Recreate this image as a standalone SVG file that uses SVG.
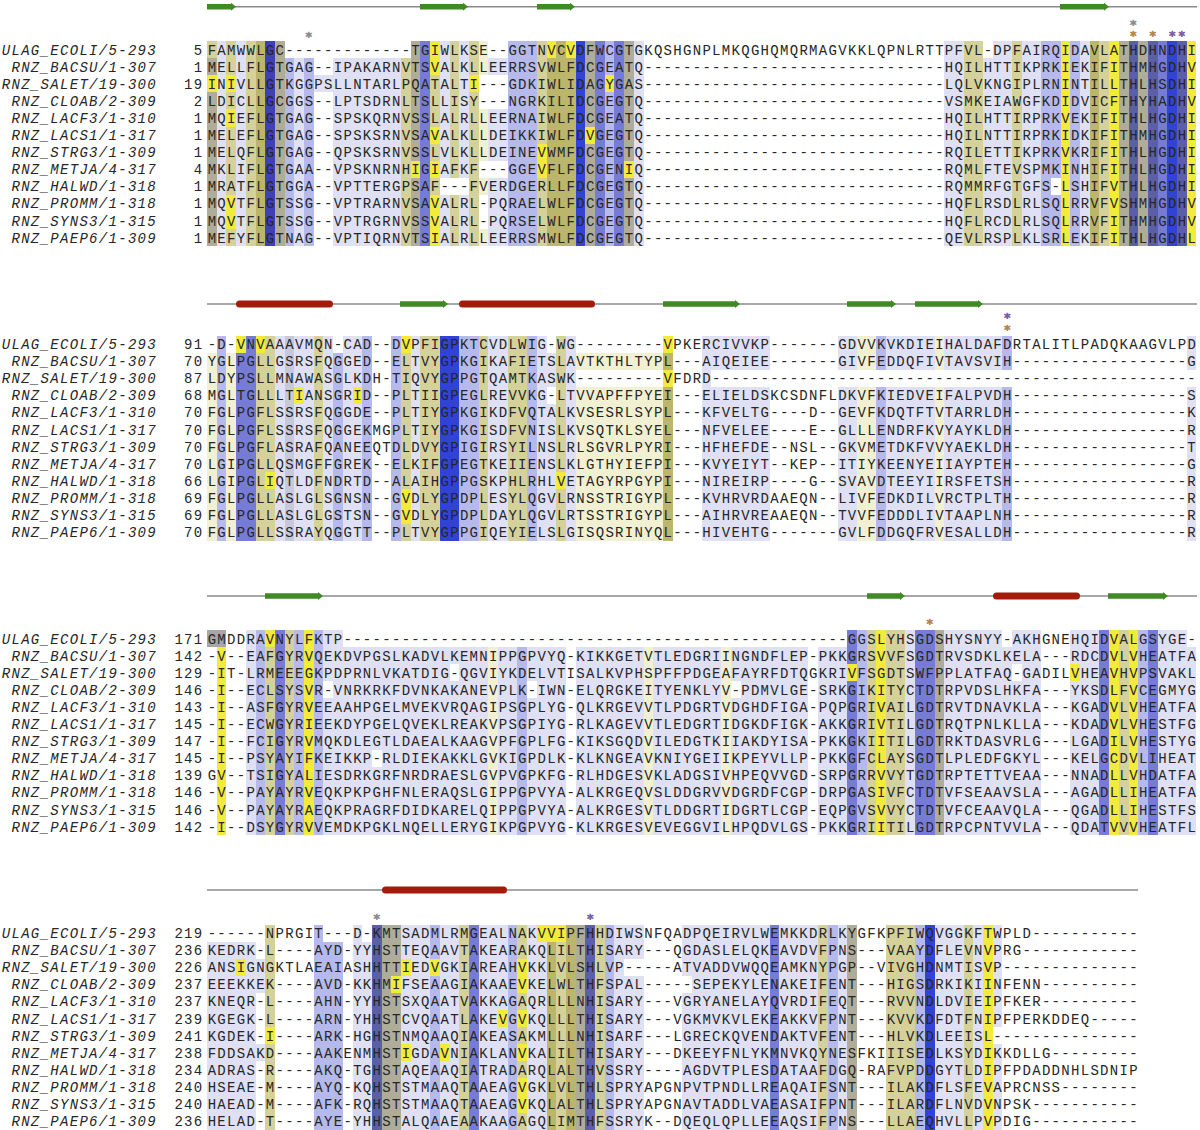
<svg xmlns="http://www.w3.org/2000/svg" width="1200" height="1130" viewBox="0 0 1200 1130">
<style>
.seq{font-family:"Liberation Mono",monospace;font-size:14px;letter-spacing:1.3px;fill:#262626}
.nm{font-family:"Liberation Mono",monospace;font-size:14px;letter-spacing:1.3px;fill:#262626;font-style:italic;text-anchor:end}
.num{font-family:"Liberation Mono",monospace;font-size:14px;letter-spacing:1.3px;fill:#262626;text-anchor:end}
.st{font-family:"DejaVu Sans",sans-serif;font-size:13px;text-anchor:middle;stroke-width:0.7}
.sg{fill:#8c8c8c;stroke:#8c8c8c}.so{fill:#b5834f;stroke:#b5834f}.sp{fill:#7a5ca6;stroke:#7a5ca6}
.bg{shape-rendering:crispEdges}
.D{fill:#3043d4}.N{fill:#3e40b8}.S{fill:#5b5fa8}.B{fill:#767cd6}.L{fill:#b6b9eb}.P{fill:#dfe0f4}
.Y{fill:#f2eb3c}.O{fill:#bcb56c}.K{fill:#d5d19b}.G{fill:#afad99}.W{fill:#f2f0d2}.Q{fill:#c8c8dc}.X{fill:#ffffff}.GR{fill:#a6a6a6}
.ln{stroke:#8a8a8a;stroke-width:1.4;fill:none}
.strand{fill:#3f8a25}.helix{fill:#a51b0b}
</style>
<rect width="1200" height="1130" fill="#ffffff"/>

<g id="secondary-structure">
<line class="ln" x1="207" y1="6.7" x2="1197" y2="6.7"/>
<polygon class="strand" points="207,3.9 231,3.9 231,2.7 236,6.7 231,10.7 231,9.5 207,9.5"/>
<polygon class="strand" points="420,3.9 463,3.9 463,2.7 468,6.7 463,10.7 463,9.5 420,9.5"/>
<polygon class="strand" points="537,3.9 570,3.9 570,2.7 575,6.7 570,10.7 570,9.5 537,9.5"/>
<polygon class="strand" points="1060,3.9 1104,3.9 1104,2.7 1109,6.7 1104,10.7 1104,9.5 1060,9.5"/>

<line class="ln" x1="207" y1="304" x2="1197" y2="304"/>
<rect class="helix" x="236" y="300.5" width="97" height="7" rx="3.5"/>
<polygon class="strand" points="400,301.2 443,301.2 443,300 448,304 443,308 443,306.8 400,306.8"/>
<rect class="helix" x="459" y="300.5" width="136" height="7" rx="3.5"/>
<polygon class="strand" points="663,301.2 735,301.2 735,300 740,304 735,308 735,306.8 663,306.8"/>
<polygon class="strand" points="847,301.2 891,301.2 891,300 896,304 891,308 891,306.8 847,306.8"/>
<polygon class="strand" points="915,301.2 978,301.2 978,300 983,304 978,308 978,306.8 915,306.8"/>

<line class="ln" x1="207" y1="596" x2="1197" y2="596"/>
<polygon class="strand" points="265,593.2 318,593.2 318,592 323,596 318,600 318,598.8 265,598.8"/>
<polygon class="strand" points="867,593.2 900,593.2 900,592 905,596 900,600 900,598.8 867,598.8"/>
<rect class="helix" x="993" y="592.5" width="87" height="7" rx="3.5"/>
<polygon class="strand" points="1108,593.2 1163,593.2 1163,592 1168,596 1163,600 1163,598.8 1108,598.8"/>

<line class="ln" x1="207" y1="890" x2="1138" y2="890"/>
<rect class="helix" x="382" y="886.5" width="125" height="7" rx="3.5"/>
</g>

<g id="markers">
<text class="st sg" x="308.85" y="40.8">*</text>
<text class="st sg" x="1133.35" y="29.3">*</text>
<text class="st"><tspan class="so" x="1133.35" y="39.8">*</tspan><tspan class="so" x="1152.75" y="39.8">*</tspan><tspan class="sp" x="1172.15" y="39.8">*</tspan><tspan class="sp" x="1181.85" y="39.8">*</tspan></text>
<text class="st sp" x="1007.25" y="322.3">*</text>
<text class="st so" x="1007.25" y="334">*</text>
<text class="st so" x="929.65" y="628">*</text>
<text class="st sg" x="376.75" y="923.3">*</text>
<text class="st sp" x="590.15" y="923.3">*</text>
</g>

<!-- BLOCK 1 -->
<g id="block1">
<g class="bg">
<rect class="G" x="207" y="41" width="9.7" height="205.2"/>
<rect class="P" x="216.7" y="41" width="9.7" height="205.2"/>
<rect class="K" x="226.4" y="41" width="9.7" height="205.2"/>
<rect class="P" x="236.1" y="41" width="9.7" height="205.2"/>
<rect class="K" x="245.8" y="41" width="9.7" height="205.2"/>
<rect class="O" x="255.5" y="41" width="9.7" height="205.2"/>
<rect class="N" x="265.2" y="41" width="9.7" height="205.2"/>
<rect class="G" x="274.9" y="41" width="9.7" height="205.2"/>
<rect class="L" x="284.6" y="41" width="9.7" height="205.2"/>
<rect class="P" x="294.3" y="41" width="9.7" height="205.2"/>
<rect class="L" x="304" y="41" width="9.7" height="205.2"/>
<rect class="P" x="333.1" y="41" width="67.9" height="205.2"/>
<rect class="K" x="401" y="41" width="9.7" height="205.2"/>
<rect class="G" x="410.7" y="41" width="9.7" height="205.2"/>
<rect class="B" x="420.4" y="41" width="9.7" height="205.2"/>
<rect class="K" x="430.1" y="41" width="9.7" height="205.2"/>
<rect class="P" x="439.8" y="41" width="9.7" height="205.2"/>
<rect class="K" x="449.5" y="41" width="9.7" height="205.2"/>
<rect class="P" x="459.2" y="41" width="9.7" height="205.2"/>
<rect class="K" x="468.9" y="41" width="9.7" height="205.2"/>
<rect class="W" x="478.6" y="41" width="9.7" height="205.2"/>
<rect class="P" x="488.3" y="41" width="19.4" height="205.2"/>
<rect class="L" x="507.7" y="41" width="29.1" height="205.2"/>
<rect class="K" x="536.8" y="41" width="9.7" height="205.2"/>
<rect class="O" x="546.5" y="41" width="29.1" height="205.2"/>
<rect class="D" x="575.6" y="41" width="9.7" height="205.2"/>
<rect class="G" x="585.3" y="41" width="9.7" height="205.2"/>
<rect class="B" x="595" y="41" width="9.7" height="205.2"/>
<rect class="L" x="604.7" y="41" width="9.7" height="205.2"/>
<rect class="B" x="614.4" y="41" width="9.7" height="205.2"/>
<rect class="G" x="624.1" y="41" width="9.7" height="205.2"/>
<rect class="P" x="633.8" y="41" width="9.7" height="205.2"/>
<rect class="P" x="944.2" y="41" width="19.4" height="205.2"/>
<rect class="K" x="963.6" y="41" width="19.4" height="205.2"/>
<rect class="P" x="983" y="41" width="29.1" height="205.2"/>
<rect class="K" x="1012.1" y="41" width="9.7" height="205.2"/>
<rect class="P" x="1021.8" y="41" width="19.4" height="205.2"/>
<rect class="L" x="1041.2" y="41" width="19.4" height="205.2"/>
<rect class="Y" x="1060.6" y="41" width="9.7" height="205.2"/>
<rect class="L" x="1070.3" y="41" width="9.7" height="205.2"/>
<rect class="P" x="1080" y="41" width="9.7" height="205.2"/>
<rect class="O" x="1089.7" y="41" width="9.7" height="205.2"/>
<rect class="K" x="1099.4" y="41" width="9.7" height="205.2"/>
<rect class="Y" x="1109.1" y="41" width="9.7" height="205.2"/>
<rect class="G" x="1118.8" y="41" width="9.7" height="205.2"/>
<rect class="S" x="1128.5" y="41" width="9.7" height="205.2"/>
<rect class="G" x="1138.2" y="41" width="9.7" height="205.2"/>
<rect class="S" x="1147.9" y="41" width="9.7" height="205.2"/>
<rect class="B" x="1157.6" y="41" width="9.7" height="205.2"/>
<rect class="D" x="1167.3" y="41" width="9.7" height="205.2"/>
<rect class="S" x="1177" y="41" width="9.7" height="205.2"/>
<rect class="Y" x="1186.7" y="41" width="9.7" height="205.2"/>
<rect class="X" x="284.6" y="41" width="126.1" height="17.1"/>
<rect class="X" x="488.3" y="41" width="19.4" height="17.1"/>
<rect class="X" x="983" y="41" width="9.7" height="17.1"/>
<rect class="X" x="478.6" y="75.2" width="29.1" height="17.1"/>
<rect class="X" x="478.6" y="92.3" width="29.1" height="17.1"/>
<rect class="X" x="478.6" y="160.7" width="29.1" height="17.1"/>
<rect class="X" x="439.8" y="177.8" width="29.1" height="17.1"/>
<rect class="X" x="1050.9" y="177.8" width="9.7" height="17.1"/>
<rect class="X" x="478.6" y="194.9" width="9.7" height="17.1"/>
<rect class="X" x="478.6" y="212" width="9.7" height="17.1"/>
<rect class="P" x="313.7" y="75.2" width="19.4" height="17.1"/>
<rect class="K" x="207" y="41" width="9.7" height="17.1"/>
<rect class="Y" x="207" y="75.2" width="9.7" height="17.1"/>
<rect class="Y" x="226.4" y="75.2" width="9.7" height="17.1"/>
<rect class="Y" x="226.4" y="109.4" width="9.7" height="17.1"/>
<rect class="Y" x="226.4" y="194.9" width="9.7" height="17.1"/>
<rect class="Y" x="226.4" y="212" width="9.7" height="17.1"/>
<rect class="Y" x="430.1" y="41" width="9.7" height="17.1"/>
<rect class="Y" x="430.1" y="58.1" width="9.7" height="17.1"/>
<rect class="Y" x="430.1" y="126.5" width="9.7" height="17.1"/>
<rect class="Y" x="410.7" y="160.7" width="9.7" height="17.1"/>
<rect class="Y" x="430.1" y="160.7" width="9.7" height="17.1"/>
<rect class="Y" x="430.1" y="194.9" width="9.7" height="17.1"/>
<rect class="Y" x="430.1" y="212" width="9.7" height="17.1"/>
<rect class="Y" x="430.1" y="229.1" width="9.7" height="17.1"/>
<rect class="Y" x="546.5" y="41" width="9.7" height="17.1"/>
<rect class="Y" x="565.9" y="41" width="9.7" height="17.1"/>
<rect class="Y" x="536.8" y="143.6" width="9.7" height="17.1"/>
<rect class="Y" x="536.8" y="160.7" width="9.7" height="17.1"/>
<rect class="Y" x="585.3" y="126.5" width="9.7" height="17.1"/>
<rect class="Y" x="604.7" y="75.2" width="9.7" height="17.1"/>
<rect class="Y" x="624.1" y="160.7" width="9.7" height="17.1"/>
<rect class="Y" x="468.9" y="75.2" width="9.7" height="17.1"/>
</g>
<g class="names">
<text class="nm" x="157" y="54.5">ULAG_ECOLI/5-293</text>
<text class="nm" x="157" y="71.6">RNZ_BACSU/1-307</text>
<text class="nm" x="157" y="88.7">RNZ_SALET/19-300</text>
<text class="nm" x="157" y="105.8">RNZ_CLOAB/2-309</text>
<text class="nm" x="157" y="122.9">RNZ_LACF3/1-310</text>
<text class="nm" x="157" y="140">RNZ_LACS1/1-317</text>
<text class="nm" x="157" y="157.1">RNZ_STRG3/1-309</text>
<text class="nm" x="157" y="174.2">RNZ_METJA/4-317</text>
<text class="nm" x="157" y="191.3">RNZ_HALWD/1-318</text>
<text class="nm" x="157" y="208.4">RNZ_PROMM/1-318</text>
<text class="nm" x="157" y="225.5">RNZ_SYNS3/1-315</text>
<text class="nm" x="157" y="242.6">RNZ_PAEP6/1-309</text>
</g>
<g class="nums">
<text class="num" x="203.5" y="54.5">5</text>
<text class="num" x="203.5" y="71.6">1</text>
<text class="num" x="203.5" y="88.7">19</text>
<text class="num" x="203.5" y="105.8">2</text>
<text class="num" x="203.5" y="122.9">1</text>
<text class="num" x="203.5" y="140">1</text>
<text class="num" x="203.5" y="157.1">1</text>
<text class="num" x="203.5" y="174.2">4</text>
<text class="num" x="203.5" y="191.3">1</text>
<text class="num" x="203.5" y="208.4">1</text>
<text class="num" x="203.5" y="225.5">1</text>
<text class="num" x="203.5" y="242.6">1</text>
</g>
<g class="seqs">
<text class="seq" x="207.65" y="54.5">FAMWWLGC-------------TGIWLKSE--GGTNVCVDFWCGTGKQSHGNPLMKQGHQMQRMAGVKKLQPNLRTT<tspan x="944.85">PFVL-DPFAIRQIDAVLATHDHNDHI</tspan></text>
<text class="seq" x="207.65" y="71.6">MELLFLGTGAG--IPAKARNVTSVALKLLEERRSVWLFDCGEATQ-------------------------------<tspan x="944.85">HQILHTTIKPRKIEKIFITHMHGDHV</tspan></text>
<text class="seq" x="207.65" y="88.7">INIVLLGTKGGPSLLNTARLPQATALTI---GDKIWLIDAGYGAS-------------------------------<tspan x="944.85">LQLVKNGIPLRNINTILLTHLHSDHI</tspan></text>
<text class="seq" x="207.65" y="105.8">LDICLLGCGGS--LPTSDRNLTSLLISY---NGRKILIDCGEGTQ-------------------------------<tspan x="944.85">VSMKEIAWGFKDIDVICFTHYHADHV</tspan></text>
<text class="seq" x="207.65" y="122.9">MQIEFLGTGAG--SPSKQRNVSSLALRLLEERNAIWLFDCGEATQ-------------------------------<tspan x="944.85">HQILHTTIRPRKVEKIFITHLHGDHI</tspan></text>
<text class="seq" x="207.65" y="140">MELEFLGTGAG--SPSKSRNVSAVALKLLDEIKKIWLFDVGEGTQ-------------------------------<tspan x="944.85">HQILNTTIRPRKIDKIFITHMHGDHI</tspan></text>
<text class="seq" x="207.65" y="157.1">MELQFLGTGAG--QPSKSRNVSSLVLKLLDEINEVWMFDCGEGTQ-------------------------------<tspan x="944.85">RQILETTIKPRKVKRIFITHLHGDHI</tspan></text>
<text class="seq" x="207.65" y="174.2">MKLIFLGTGAA--VPSKNRNHIGIAFKF---GGEVFLFDCGENIQ-------------------------------<tspan x="944.85">RQMLFTEVSPMKINHIFITHLHGDHI</tspan></text>
<text class="seq" x="207.65" y="191.3">MRATFLGTGGA--VPTTERGPSAF---FVERDGERLLFDCGEGTQ-------------------------------<tspan x="944.85">RQMMRFGTGFS-LSHIFVTHLHGDHI</tspan></text>
<text class="seq" x="207.65" y="208.4">MQVTFLGTSSG--VPTRARNVSAVALRL-PQRAELWLFDCGEGTQ-------------------------------<tspan x="944.85">HQFLRSDLRLSQLRRVFVSHMHGDHV</tspan></text>
<text class="seq" x="207.65" y="225.5">MQVTFLGTSSG--VPTRGRNVSSVALRL-PQRSELWLFDCGEGTQ-------------------------------<tspan x="944.85">HQFLRCDLRLSQLRRVFITHMHGDHV</tspan></text>
<text class="seq" x="207.65" y="242.6">MEFYFLGTNAG--VPTIQRNVTSIALRLLEERRSMWLFDCGEGTQ-------------------------------<tspan x="944.85">QEVLRSPLKLSRLEKIFITHLHGDHL</tspan></text>
</g>
</g>

<!-- BLOCK 2 -->
<g id="block2" transform="translate(0,294.5)">
<g class="bg">
<rect class="W" x="207" y="41" width="9.7" height="205.2"/>
<rect class="L" x="216.7" y="41" width="9.7" height="205.2"/>
<rect class="W" x="226.4" y="41" width="9.7" height="205.2"/>
<rect class="B" x="236.1" y="41" width="19.4" height="205.2"/>
<rect class="K" x="255.5" y="41" width="19.4" height="205.2"/>
<rect class="P" x="274.9" y="41" width="9.7" height="205.2"/>
<rect class="Q" x="284.6" y="41" width="9.7" height="205.2"/>
<rect class="P" x="294.3" y="41" width="19.4" height="205.2"/>
<rect class="K" x="313.7" y="41" width="9.7" height="205.2"/>
<rect class="P" x="323.4" y="41" width="9.7" height="205.2"/>
<rect class="L" x="333.1" y="41" width="9.7" height="205.2"/>
<rect class="P" x="342.8" y="41" width="19.4" height="205.2"/>
<rect class="L" x="362.2" y="41" width="9.7" height="205.2"/>
<rect class="L" x="391.3" y="41" width="9.7" height="205.2"/>
<rect class="K" x="401" y="41" width="9.7" height="205.2"/>
<rect class="P" x="410.7" y="41" width="9.7" height="205.2"/>
<rect class="K" x="420.4" y="41" width="19.4" height="205.2"/>
<rect class="D" x="439.8" y="41" width="19.4" height="205.2"/>
<rect class="L" x="459.2" y="41" width="19.4" height="205.2"/>
<rect class="K" x="478.6" y="41" width="9.7" height="205.2"/>
<rect class="P" x="488.3" y="41" width="19.4" height="205.2"/>
<rect class="K" x="507.7" y="41" width="19.4" height="205.2"/>
<rect class="L" x="527.1" y="41" width="9.7" height="205.2"/>
<rect class="P" x="536.8" y="41" width="19.4" height="205.2"/>
<rect class="K" x="556.2" y="41" width="9.7" height="205.2"/>
<rect class="P" x="565.9" y="41" width="9.7" height="205.2"/>
<rect class="W" x="575.6" y="41" width="87.3" height="205.2"/>
<rect class="O" x="662.9" y="41" width="9.7" height="205.2"/>
<rect class="P" x="701.7" y="41" width="67.9" height="205.2"/>
<rect class="P" x="837.5" y="41" width="19.4" height="205.2"/>
<rect class="W" x="856.9" y="41" width="19.4" height="205.2"/>
<rect class="L" x="876.3" y="41" width="9.7" height="205.2"/>
<rect class="P" x="886" y="41" width="48.5" height="205.2"/>
<rect class="W" x="934.5" y="41" width="9.7" height="205.2"/>
<rect class="P" x="944.2" y="41" width="58.2" height="205.2"/>
<rect class="L" x="1002.4" y="41" width="9.7" height="205.2"/>
<rect class="P" x="1186.7" y="41" width="9.7" height="205.2"/>
<rect class="X" x="207" y="41" width="9.7" height="17.1"/>
<rect class="X" x="226.4" y="41" width="9.7" height="17.1"/>
<rect class="X" x="333.1" y="41" width="9.7" height="17.1"/>
<rect class="X" x="546.5" y="41" width="9.7" height="17.1"/>
<rect class="X" x="575.6" y="41" width="87.3" height="17.1"/>
<rect class="X" x="575.6" y="75.2" width="87.3" height="17.1"/>
<rect class="X" x="711.4" y="75.2" width="58.2" height="17.1"/>
<rect class="X" x="837.5" y="75.2" width="174.6" height="17.1"/>
<rect class="X" x="1186.7" y="75.2" width="9.7" height="17.1"/>
<rect class="X" x="546.5" y="92.3" width="9.7" height="17.1"/>
<rect class="Y" x="236.1" y="41" width="9.7" height="17.1"/>
<rect class="Y" x="255.5" y="41" width="9.7" height="17.1"/>
<rect class="Y" x="401" y="41" width="9.7" height="17.1"/>
<rect class="Y" x="401" y="194.9" width="9.7" height="17.1"/>
<rect class="Y" x="401" y="212" width="9.7" height="17.1"/>
<rect class="Y" x="662.9" y="41" width="9.7" height="17.1"/>
<rect class="Y" x="662.9" y="75.2" width="9.7" height="17.1"/>
<rect class="Y" x="294.3" y="92.3" width="9.7" height="17.1"/>
<rect class="Y" x="352.5" y="92.3" width="9.7" height="17.1"/>
<rect class="Y" x="265.2" y="177.8" width="9.7" height="17.1"/>
<rect class="Y" x="556.2" y="177.8" width="9.7" height="17.1"/>
</g>
<g class="names">
<text class="nm" x="157" y="54.5">ULAG_ECOLI/5-293</text>
<text class="nm" x="157" y="71.6">RNZ_BACSU/1-307</text>
<text class="nm" x="157" y="88.7">RNZ_SALET/19-300</text>
<text class="nm" x="157" y="105.8">RNZ_CLOAB/2-309</text>
<text class="nm" x="157" y="122.9">RNZ_LACF3/1-310</text>
<text class="nm" x="157" y="140">RNZ_LACS1/1-317</text>
<text class="nm" x="157" y="157.1">RNZ_STRG3/1-309</text>
<text class="nm" x="157" y="174.2">RNZ_METJA/4-317</text>
<text class="nm" x="157" y="191.3">RNZ_HALWD/1-318</text>
<text class="nm" x="157" y="208.4">RNZ_PROMM/1-318</text>
<text class="nm" x="157" y="225.5">RNZ_SYNS3/1-315</text>
<text class="nm" x="157" y="242.6">RNZ_PAEP6/1-309</text>
</g>
<g class="nums">
<text class="num" x="203.5" y="54.5">91</text>
<text class="num" x="203.5" y="71.6">70</text>
<text class="num" x="203.5" y="88.7">87</text>
<text class="num" x="203.5" y="105.8">68</text>
<text class="num" x="203.5" y="122.9">70</text>
<text class="num" x="203.5" y="140">70</text>
<text class="num" x="203.5" y="157.1">70</text>
<text class="num" x="203.5" y="174.2">70</text>
<text class="num" x="203.5" y="191.3">66</text>
<text class="num" x="203.5" y="208.4">69</text>
<text class="num" x="203.5" y="225.5">69</text>
<text class="num" x="203.5" y="242.6">70</text>
</g>
<g class="seqs">
<text class="seq" x="207.65" y="54.5">-D-VNVAAAVMQN-CAD--DVPFIGPKTCVDLWIG-WG---------<tspan x="663.55">VPKERCIVVKP-------</tspan><tspan x="838.15">GDVVKVKDIEIHALDAFDRTALITLPADQKAAGVLPD</tspan></text>
<text class="seq" x="207.65" y="71.6">YGLPGLLGSRSFQGGED--ELTVYGPKGIKAFIETSLAVTKTHLTYP<tspan x="663.55">L---AIQEIEE-------</tspan><tspan x="838.15">GIVFEDDQFIVTAVSVIH------------------</tspan><tspan x="1187.35">G</tspan></text>
<text class="seq" x="207.65" y="88.7">LDYPSLLMNAWASGLKDH-TIQVYGPPGTQAMTKASWK---------<tspan x="663.55">VFDRD-------------</tspan><tspan x="838.15">------------------------------------</tspan><tspan x="1187.35">-</tspan></text>
<text class="seq" x="207.65" y="105.8">MGLTGLLLTIANSGRID--PLTIIGPEGLREVVKG-LTVVAPFFPYE<tspan x="663.55">I---ELIELDSKCSDNFL</tspan><tspan x="838.15">DKVFKIEDVEIFALPVDH------------------</tspan><tspan x="1187.35">S</tspan></text>
<text class="seq" x="207.65" y="122.9">FGLPGFLSSRSFQGGDE--PLTIYGPKGIKDFVQTALKVSESRLSYP<tspan x="663.55">L---KFVELTG----D--</tspan><tspan x="838.15">GEVFKDQTFTVTARRLDH------------------</tspan><tspan x="1187.35">K</tspan></text>
<text class="seq" x="207.65" y="140">FGLPGFLSSRSFQGGEKMGPLTIYGPKGISDFVNISLKVSQTKLSYE<tspan x="663.55">L---NFVELEE----E--</tspan><tspan x="838.15">GLLLENDRFKVYAYKLDH------------------</tspan><tspan x="1187.35">R</tspan></text>
<text class="seq" x="207.65" y="157.1">FGLPGFLASRAFQANEEQTDLDVYGPIGIRSYILNSLRLSGVRLPYR<tspan x="663.55">I---HFHEFDE--NSL--</tspan><tspan x="838.15">GKVMETDKFVVYAEKLDH------------------</tspan><tspan x="1187.35">T</tspan></text>
<text class="seq" x="207.65" y="174.2">LGIPGLLQSMGFFGREK--ELKIFGPEGTKEIIENSLKLGTHYIEFP<tspan x="663.55">I---KVYEIYT--KEP--</tspan><tspan x="838.15">ITIYKEENYEIIAYPTEH------------------</tspan><tspan x="1187.35">G</tspan></text>
<text class="seq" x="207.65" y="191.3">LGIPGLIQTLDFNDRTD--ALAIHGPPGSKPHLRHLVETAGYRPGYP<tspan x="663.55">I---NIREIRP----G--</tspan><tspan x="838.15">SVAVDTEEYIIRSFETSH------------------</tspan><tspan x="1187.35">R</tspan></text>
<text class="seq" x="207.65" y="208.4">FGLPGLLASLGLSGNSN--GVDLYGPDPLESYLQGVLRNSSTRIGYP<tspan x="663.55">L---KVHRVRDAAEQN--</tspan><tspan x="838.15">LIVFEDKDILVRCTPLTH------------------</tspan><tspan x="1187.35">R</tspan></text>
<text class="seq" x="207.65" y="225.5">FGLPGLLASLGLGSTSN--GVDLYGPDPLDAYLQGVLRTSSTRIGYP<tspan x="663.55">L---AIHRVREAAEQN--</tspan><tspan x="838.15">TVVFEDDDLIVTAAPLNH------------------</tspan><tspan x="1187.35">R</tspan></text>
<text class="seq" x="207.65" y="242.6">FGLPGLLSSRAYQGGTT--PLTVYGPPGIQEYIELSLGISQSRINYQ<tspan x="663.55">L---HIVEHTG-------</tspan><tspan x="838.15">GVLFDDGQFRVESALLDH------------------</tspan><tspan x="1187.35">R</tspan></text>
</g>
</g>

<!-- BLOCK 3 -->
<g id="block3" transform="translate(0,589)">
<g class="bg">
<rect class="Y" x="216.7" y="41" width="9.7" height="205.2"/>
<rect class="P" x="245.8" y="41" width="9.7" height="205.2"/>
<rect class="L" x="255.5" y="41" width="9.7" height="205.2"/>
<rect class="K" x="265.2" y="41" width="9.7" height="205.2"/>
<rect class="B" x="274.9" y="41" width="9.7" height="205.2"/>
<rect class="K" x="284.6" y="41" width="9.7" height="205.2"/>
<rect class="L" x="294.3" y="41" width="9.7" height="205.2"/>
<rect class="Y" x="304" y="41" width="9.7" height="205.2"/>
<rect class="L" x="313.7" y="41" width="9.7" height="205.2"/>
<rect class="P" x="323.4" y="41" width="164.9" height="205.2"/>
<rect class="W" x="488.3" y="41" width="9.7" height="205.2"/>
<rect class="P" x="498" y="41" width="19.4" height="205.2"/>
<rect class="L" x="517.4" y="41" width="9.7" height="205.2"/>
<rect class="P" x="527.1" y="41" width="38.8" height="205.2"/>
<rect class="P" x="575.6" y="41" width="232.8" height="205.2"/>
<rect class="W" x="643.5" y="41" width="9.7" height="205.2"/>
<rect class="W" x="721.1" y="41" width="9.7" height="205.2"/>
<rect class="P" x="818.1" y="41" width="29.1" height="205.2"/>
<rect class="B" x="847.2" y="41" width="9.7" height="205.2"/>
<rect class="L" x="856.9" y="41" width="9.7" height="205.2"/>
<rect class="K" x="866.6" y="41" width="9.7" height="205.2"/>
<rect class="Y" x="876.3" y="41" width="9.7" height="205.2"/>
<rect class="K" x="886" y="41" width="19.4" height="205.2"/>
<rect class="P" x="905.4" y="41" width="9.7" height="205.2"/>
<rect class="B" x="915.1" y="41" width="19.4" height="205.2"/>
<rect class="G" x="934.5" y="41" width="9.7" height="205.2"/>
<rect class="P" x="944.2" y="41" width="97" height="205.2"/>
<rect class="P" x="1070.3" y="41" width="29.1" height="205.2"/>
<rect class="B" x="1099.4" y="41" width="9.7" height="205.2"/>
<rect class="Y" x="1109.1" y="41" width="9.7" height="205.2"/>
<rect class="K" x="1118.8" y="41" width="9.7" height="205.2"/>
<rect class="Y" x="1128.5" y="41" width="9.7" height="205.2"/>
<rect class="L" x="1138.2" y="41" width="9.7" height="205.2"/>
<rect class="B" x="1147.9" y="41" width="9.7" height="205.2"/>
<rect class="P" x="1157.6" y="41" width="38.8" height="205.2"/>
<rect class="X" x="342.8" y="41" width="504.4" height="17.1"/>
<rect class="X" x="1002.4" y="41" width="9.7" height="17.1"/>
<rect class="X" x="1186.7" y="41" width="9.7" height="17.1"/>
<rect class="X" x="449.5" y="75.2" width="9.7" height="17.1"/>
<rect class="X" x="1012.1" y="75.2" width="9.7" height="17.1"/>
<rect class="X" x="323.4" y="92.3" width="9.7" height="17.1"/>
<rect class="X" x="527.1" y="92.3" width="9.7" height="17.1"/>
<rect class="X" x="730.8" y="92.3" width="9.7" height="17.1"/>
<rect class="X" x="371.9" y="160.7" width="9.7" height="17.1"/>
<rect class="GR" x="207" y="41" width="19.4" height="17.1"/>
<rect class="Y" x="265.2" y="41" width="9.7" height="17.1"/>
<rect class="Y" x="847.2" y="75.2" width="9.7" height="17.1"/>
<rect class="Y" x="1070.3" y="75.2" width="9.7" height="17.1"/>
</g>
<g class="names">
<text class="nm" x="157" y="54.5">ULAG_ECOLI/5-293</text>
<text class="nm" x="157" y="71.6">RNZ_BACSU/1-307</text>
<text class="nm" x="157" y="88.7">RNZ_SALET/19-300</text>
<text class="nm" x="157" y="105.8">RNZ_CLOAB/2-309</text>
<text class="nm" x="157" y="122.9">RNZ_LACF3/1-310</text>
<text class="nm" x="157" y="140">RNZ_LACS1/1-317</text>
<text class="nm" x="157" y="157.1">RNZ_STRG3/1-309</text>
<text class="nm" x="157" y="174.2">RNZ_METJA/4-317</text>
<text class="nm" x="157" y="191.3">RNZ_HALWD/1-318</text>
<text class="nm" x="157" y="208.4">RNZ_PROMM/1-318</text>
<text class="nm" x="157" y="225.5">RNZ_SYNS3/1-315</text>
<text class="nm" x="157" y="242.6">RNZ_PAEP6/1-309</text>
</g>
<g class="nums">
<text class="num" x="203.5" y="54.5">171</text>
<text class="num" x="203.5" y="71.6">142</text>
<text class="num" x="203.5" y="88.7">129</text>
<text class="num" x="203.5" y="105.8">146</text>
<text class="num" x="203.5" y="122.9">143</text>
<text class="num" x="203.5" y="140">145</text>
<text class="num" x="203.5" y="157.1">147</text>
<text class="num" x="203.5" y="174.2">145</text>
<text class="num" x="203.5" y="191.3">139</text>
<text class="num" x="203.5" y="208.4">146</text>
<text class="num" x="203.5" y="225.5">146</text>
<text class="num" x="203.5" y="242.6">142</text>
</g>
<g class="seqs">
<text class="seq" x="207.65" y="54.5">GMDDRAVNYLFKTP----------------------------------------------<tspan x="789.65">------GGSLYHSGDSHYSNYY-AKHGNEHQIDVALGSYGE-</tspan></text>
<text class="seq" x="207.65" y="71.6">-V--EAFGYRVQEKDVPGSLKADVLKEMNIPPGPVYQ-KIKKGETVTLEDGRIINGNDFL<tspan x="789.65">EP-PKKGRSVVFSGDTRVSDKLKELA---RDCDVLVHEATFA</tspan></text>
<text class="seq" x="207.65" y="88.7">-IT-LRMEEEGKPDPRNLVKATDIG-QGVIYKDELVTISALKVPHSPFFPDGEAFAYRFD<tspan x="789.65">TQGKRIVFSGDTSWFPPLATFAQ-GADILVHEAVHVPSVAKL</tspan></text>
<text class="seq" x="207.65" y="105.8">-I--ECLSYSVR-VNRKRKFDVNKAKANEVPLK-IWN-ELQRGKEITYENKLYV-PDMVL<tspan x="789.65">GE-SRKGIKITYCTDTRPVDSLHKFA---YKSDLFVCEGMYG</tspan></text>
<text class="seq" x="207.65" y="122.9">-I--ASFGYRVEEAAHPGELMVEKVRQAGIPSGPLYG-QLKRGEVVTLPDGRTVDGHDFI<tspan x="789.65">GA-PQPGRIVAILGDTRVTDNAVKLA---KGADVLVHEATFA</tspan></text>
<text class="seq" x="207.65" y="140">-I--ECWGYRIEEKDYPGELQVEKLREAKVPSGPIYG-RLKAGEVVTLEDGRTIDGKDFI<tspan x="789.65">GK-AKKGRIVTILGDTRQTPNLKLLA---KDADVLVHESTFG</tspan></text>
<text class="seq" x="207.65" y="157.1">-I--FCIGYRVMQKDLEGTLDAEALKAAGVPFGPLFG-KIKSGQDVILEDGTKIIAKDYI<tspan x="789.65">SA-PKKGKIITILGDTRKTDASVRLG---LGADILVHESTYG</tspan></text>
<text class="seq" x="207.65" y="174.2">-I--PSYAYIFKEIKKP-RLDIEKAKKLGVKIGPDLK-KLKNGEAVKNIYGEIIKPEYVL<tspan x="789.65">LP-PKKGFCLAYSGDTLPLEDFGKYL---KELGCDVLIHEAT</tspan></text>
<text class="seq" x="207.65" y="191.3">GV--TSIGYALIESDRKGRFNRDRAESLGVPVGPKFG-RLHDGESVKLADGSIVHPEQVV<tspan x="789.65">GD-SRPGRRVVYTGDTRPTETTVEAA---NNADLLVHDATFA</tspan></text>
<text class="seq" x="207.65" y="208.4">-V--PAYAYRVEQKPKPGHFNLERAQSLGIPPGPVYA-ALKRGEQVSLDDGRVVDGRDFC<tspan x="789.65">GP-DRPGASIVFCTDTVFSEAAVSLA---AGADLLIHEATFA</tspan></text>
<text class="seq" x="207.65" y="225.5">-V--PAYAYRAEQKPRAGRFDIDKARELQIPPGPVYA-ALKRGESVTLDDGRTIDGRTLC<tspan x="789.65">GP-EQPGVSVVYCTDTVFCEAAVQLA---QGADLLIHESTFS</tspan></text>
<text class="seq" x="207.65" y="242.6">-I--DSYGYRVVEMDKPGKLNQELLERYGIKPGPVYG-KLKRGESVEVEGGVILHPQDVL<tspan x="789.65">GS-PKKGRIITILGDTRPCPNTVVLA---QDATVVVHEATFL</tspan></text>
</g>
</g>

<!-- BLOCK 4 -->
<g id="block4" transform="translate(0,883.5)">
<g class="bg">
<rect class="P" x="207" y="41" width="58.2" height="205.2"/>
<rect class="K" x="265.2" y="41" width="9.7" height="205.2"/>
<rect class="L" x="313.7" y="41" width="29.1" height="205.2"/>
<rect class="P" x="352.5" y="41" width="19.4" height="205.2"/>
<rect class="S" x="371.9" y="41" width="9.7" height="205.2"/>
<rect class="G" x="381.6" y="41" width="19.4" height="205.2"/>
<rect class="P" x="401" y="41" width="29.1" height="205.2"/>
<rect class="L" x="430.1" y="41" width="9.7" height="205.2"/>
<rect class="P" x="439.8" y="41" width="19.4" height="205.2"/>
<rect class="K" x="459.2" y="41" width="9.7" height="205.2"/>
<rect class="B" x="468.9" y="41" width="9.7" height="205.2"/>
<rect class="P" x="478.6" y="41" width="29.1" height="205.2"/>
<rect class="L" x="507.7" y="41" width="9.7" height="205.2"/>
<rect class="K" x="517.4" y="41" width="9.7" height="205.2"/>
<rect class="P" x="527.1" y="41" width="19.4" height="205.2"/>
<rect class="O" x="546.5" y="41" width="9.7" height="205.2"/>
<rect class="K" x="556.2" y="41" width="9.7" height="205.2"/>
<rect class="O" x="565.9" y="41" width="9.7" height="205.2"/>
<rect class="G" x="575.6" y="41" width="9.7" height="205.2"/>
<rect class="S" x="585.3" y="41" width="9.7" height="205.2"/>
<rect class="K" x="595" y="41" width="9.7" height="205.2"/>
<rect class="L" x="604.7" y="41" width="9.7" height="205.2"/>
<rect class="P" x="614.4" y="41" width="29.1" height="205.2"/>
<rect class="P" x="682.3" y="41" width="87.3" height="205.2"/>
<rect class="B" x="769.6" y="41" width="9.7" height="205.2"/>
<rect class="P" x="779.3" y="41" width="38.8" height="205.2"/>
<rect class="K" x="818.1" y="41" width="9.7" height="205.2"/>
<rect class="L" x="827.8" y="41" width="9.7" height="205.2"/>
<rect class="P" x="837.5" y="41" width="9.7" height="205.2"/>
<rect class="G" x="847.2" y="41" width="9.7" height="205.2"/>
<rect class="K" x="886" y="41" width="29.1" height="205.2"/>
<rect class="L" x="915.1" y="41" width="9.7" height="205.2"/>
<rect class="D" x="924.8" y="41" width="9.7" height="205.2"/>
<rect class="P" x="934.5" y="41" width="29.1" height="205.2"/>
<rect class="K" x="963.6" y="41" width="9.7" height="205.2"/>
<rect class="P" x="973.3" y="41" width="9.7" height="205.2"/>
<rect class="Y" x="983" y="41" width="9.7" height="205.2"/>
<rect class="P" x="992.7" y="41" width="9.7" height="205.2"/>
<rect class="X" x="207" y="41" width="58.2" height="17.1"/>
<rect class="X" x="323.4" y="41" width="19.4" height="17.1"/>
<rect class="X" x="362.2" y="41" width="9.7" height="17.1"/>
<rect class="X" x="255.5" y="58.1" width="9.7" height="17.1"/>
<rect class="X" x="255.5" y="109.4" width="9.7" height="17.1"/>
<rect class="X" x="255.5" y="126.5" width="9.7" height="17.1"/>
<rect class="X" x="255.5" y="143.6" width="9.7" height="17.1"/>
<rect class="X" x="255.5" y="177.8" width="9.7" height="17.1"/>
<rect class="X" x="255.5" y="194.9" width="9.7" height="17.1"/>
<rect class="X" x="255.5" y="212" width="9.7" height="17.1"/>
<rect class="X" x="255.5" y="229.1" width="9.7" height="17.1"/>
<rect class="X" x="624.1" y="75.2" width="19.4" height="17.1"/>
<rect class="X" x="682.3" y="92.3" width="9.7" height="17.1"/>
<rect class="X" x="992.7" y="143.6" width="9.7" height="17.1"/>
<rect class="Y" x="236.1" y="75.2" width="9.7" height="17.1"/>
<rect class="Y" x="265.2" y="143.6" width="9.7" height="17.1"/>
<rect class="Y" x="401" y="75.2" width="9.7" height="17.1"/>
<rect class="Y" x="391.3" y="92.3" width="9.7" height="17.1"/>
<rect class="Y" x="401" y="160.7" width="9.7" height="17.1"/>
<rect class="Y" x="430.1" y="75.2" width="9.7" height="17.1"/>
<rect class="Y" x="439.8" y="160.7" width="9.7" height="17.1"/>
<rect class="Y" x="517.4" y="75.2" width="9.7" height="17.1"/>
<rect class="Y" x="517.4" y="92.3" width="9.7" height="17.1"/>
<rect class="Y" x="498" y="126.5" width="9.7" height="17.1"/>
<rect class="Y" x="517.4" y="126.5" width="9.7" height="17.1"/>
<rect class="Y" x="517.4" y="160.7" width="9.7" height="17.1"/>
<rect class="Y" x="517.4" y="194.9" width="9.7" height="17.1"/>
<rect class="Y" x="517.4" y="212" width="9.7" height="17.1"/>
<rect class="Y" x="536.8" y="41" width="29.1" height="17.1"/>
</g>
<g class="names">
<text class="nm" x="157" y="54.5">ULAG_ECOLI/5-293</text>
<text class="nm" x="157" y="71.6">RNZ_BACSU/1-307</text>
<text class="nm" x="157" y="88.7">RNZ_SALET/19-300</text>
<text class="nm" x="157" y="105.8">RNZ_CLOAB/2-309</text>
<text class="nm" x="157" y="122.9">RNZ_LACF3/1-310</text>
<text class="nm" x="157" y="140">RNZ_LACS1/1-317</text>
<text class="nm" x="157" y="157.1">RNZ_STRG3/1-309</text>
<text class="nm" x="157" y="174.2">RNZ_METJA/4-317</text>
<text class="nm" x="157" y="191.3">RNZ_HALWD/1-318</text>
<text class="nm" x="157" y="208.4">RNZ_PROMM/1-318</text>
<text class="nm" x="157" y="225.5">RNZ_SYNS3/1-315</text>
<text class="nm" x="157" y="242.6">RNZ_PAEP6/1-309</text>
</g>
<g class="nums">
<text class="num" x="203.5" y="54.5">219</text>
<text class="num" x="203.5" y="71.6">236</text>
<text class="num" x="203.5" y="88.7">226</text>
<text class="num" x="203.5" y="105.8">237</text>
<text class="num" x="203.5" y="122.9">237</text>
<text class="num" x="203.5" y="140">239</text>
<text class="num" x="203.5" y="157.1">241</text>
<text class="num" x="203.5" y="174.2">238</text>
<text class="num" x="203.5" y="191.3">234</text>
<text class="num" x="203.5" y="208.4">240</text>
<text class="num" x="203.5" y="225.5">240</text>
<text class="num" x="203.5" y="242.6">236</text>
</g>
<g class="seqs">
<text class="seq" x="207.65" y="54.5">------NPRGIT---D-KMTSADMLRMGEALNAKVVIPFHHDIWSNFQADPQEIRVLWEM<tspan x="789.65">KKDRLKYGFKPFIWQVGGKFTWPLD-----------</tspan></text>
<text class="seq" x="207.65" y="71.6">KEDRK-L----AYD-YYHSTTEQAAVTAKEARAKQLILTHISARY---QGDASLELQKEA<tspan x="789.65">VDVFPNS---VAAYDFLEVNVPRG------------</tspan></text>
<text class="seq" x="207.65" y="88.7">ANSIGNGKTLAEAIASHHTTIEDVGKIAREAHVKKLVLSHLVP-----ATVADDVWQQEA<tspan x="789.65">MKNYPGP--VIVGHDNMTISVP--------------</tspan></text>
<text class="seq" x="207.65" y="105.8">EEEKKEK----AVD-KKHMIFSEAAGIAKAAEVKELWLTHFSPAL-----SEPEKYLENA<tspan x="789.65">KEIFENT---HIGSDRKIKIINFENN----------</tspan></text>
<text class="seq" x="207.65" y="122.9">KNEQR-L----AHN-YYHSTSXQAATVAKKAGAQRLLLNHISARY---VGRYANELAYQV<tspan x="789.65">RDIFEQT---RVVNDLDVIEIPFKER----------</tspan></text>
<text class="seq" x="207.65" y="140">KGEGK-L----ARN-YHHSTCVQAATLAKEVGVKQLLLTHISARY---VGKMVKVLEKEA<tspan x="789.65">KKVFPNT---KVVKDFDTFNIPFPERKDDEQ-----</tspan></text>
<text class="seq" x="207.65" y="157.1">KGDEK-I----ARK-HGHSTNMQAAQIAKEASAKMLLLNHISARF---LGRECKQVENDA<tspan x="789.65">KTVFENT---HLVKDLEEISL---------------</tspan></text>
<text class="seq" x="207.65" y="174.2">FDDSAKD----AAKENMHSTIGDAVNIAKLANVKALILTHISARY---DKEEYFNLYKMN<tspan x="789.65">VKQYNESFKIIISEDLKSYDIKKDLLG---------</tspan></text>
<text class="seq" x="207.65" y="191.3">ADRAS-R----AKQ-TGHSTAQEAAQIATRADARQLALTHVSSRY----AGDVTPLESDA<tspan x="789.65">TAAFDGQ-RAFVPDDGYTLDIPFPDADDNHLSDNIP</tspan></text>
<text class="seq" x="207.65" y="208.4">HSEAE-M----AYQ-KQHSTSTMAAQTAAEAGVGKLVLTHLSPRYAPGNPVTPNDLLREA<tspan x="789.65">QAIFSNT---ILAKDFLSFEVAPRCNSS--------</tspan></text>
<text class="seq" x="207.65" y="225.5">HAEAD-M----AFK-RQHSTSTMAAQTAAEAGVKQLALTHLSPRYAPGNAVTADDLVAEA<tspan x="789.65">SAIFPNT---ILARDFLNVDVNPSK-----------</tspan></text>
<text class="seq" x="207.65" y="242.6">HELAD-T----AYE-YHHSTALQAAEAAKAAGAGQLIMTHFSSRYK--DQEQLQPLLEEA<tspan x="789.65">QSIFPNS---LLAEQHVLLPVPDIG-----------</tspan></text>
</g>
</g>
</svg>
